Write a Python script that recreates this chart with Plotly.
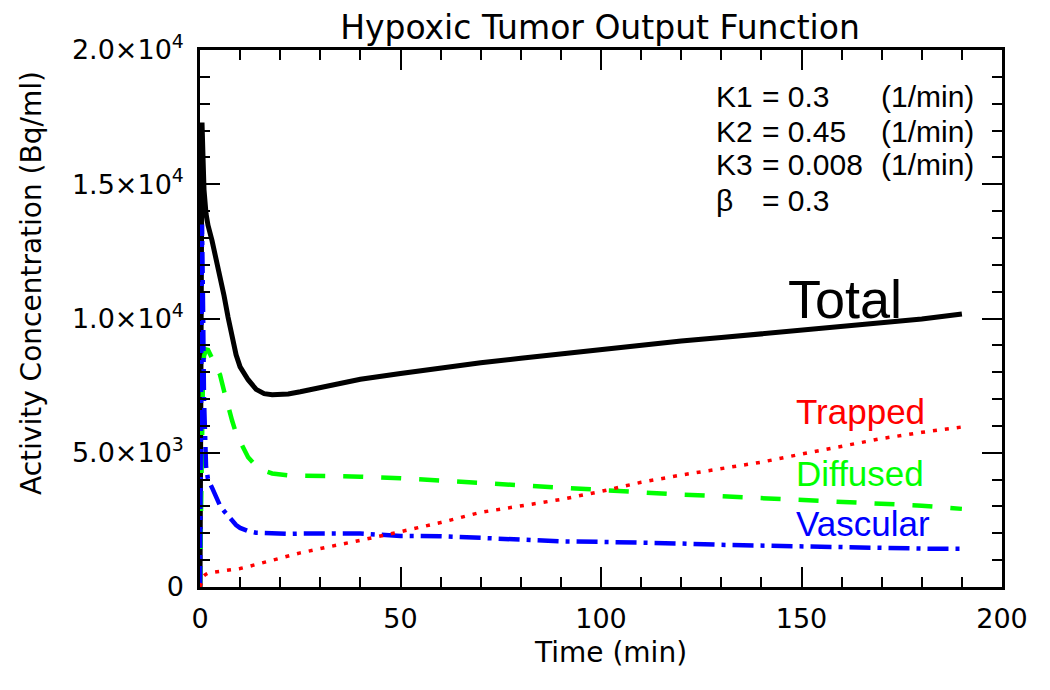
import plotly.graph_objects as go

# ---------------- data ----------------
TIME = [0, 0.25, 0.5, 0.75, 1, 1.5, 2, 3, 4, 5, 6, 7, 8, 9, 10, 12, 14, 16, 18, 20,
        22, 25, 30, 35, 40, 50, 60, 70, 80, 90, 100, 110, 120, 130, 140, 150, 160,
        170, 180, 190]

TOTAL = [0, 12000, 17300, 16000, 14800, 13900, 13470, 12900, 12250, 11600, 10850,
         10050, 9250, 8650, 8200, 7720, 7360, 7200, 7160, 7160, 7190, 7270, 7440,
         7600, 7740, 7950, 8160, 8350, 8520, 8690, 8860, 9020, 9160, 9290, 9420,
         9550, 9680, 9830, 9980, 10170]

DIFFUSED = [0, 4000, 6500, 8000, 8600, 8850, 8830, 8500, 8150, 7900, 7300, 6700,
            6200, 5720, 5400, 4830, 4500, 4330, 4230, 4180, 4160, 4150, 4140, 4140,
            4110, 4050, 3960, 3870, 3780, 3700, 3620, 3520, 3440, 3380, 3310, 3240,
            3160, 3100, 3030, 2910]

VASCULAR = [0, 9000, 13500, 10500, 7000, 4500, 4000, 3700, 3350, 3030, 2830, 2640,
            2450, 2310, 2200, 2080, 2020, 2000, 1990, 1980, 1980, 1990, 2000, 2010,
            1990, 1900, 1890, 1830, 1750, 1700, 1680, 1670, 1620, 1570, 1540, 1500,
            1460, 1450, 1430, 1420]

TRAPPED = [0, 100, 250, 350, 420, 480, 520, 540, 560, 580, 600, 620, 640, 665, 690,
           760, 840, 920, 1020, 1090, 1160, 1270, 1430, 1600, 1740, 2060, 2400, 2780,
           3020, 3260, 3560, 3900, 4170, 4400, 4650, 4950, 5250, 5530, 5760, 5960]

X_TICKS = [0, 50, 100, 150, 200]
X_TICK_LABELS = ["0", "50", "100", "150", "200"]
Y_TICKS = [0, 5000, 10000, 15000, 20000]
Y_TICK_LABELS = ["0", "5.0×10<sup>3</sup>", "1.0×10<sup>4</sup>",
                 "1.5×10<sup>4</sup>", "2.0×10<sup>4</sup>"]

PARAM_NAMES = ["K1", "K2", "K3", "β"]
PARAM_VALUES = ["= 0.3", "= 0.45", "= 0.008", "= 0.3"]
PARAM_UNITS = ["(1/min)", "(1/min)", "(1/min)", ""]

TITLE = "Hypoxic Tumor Output Function"
X_TITLE = "Time (min)"
Y_TITLE = "Activity Concentration (Bq/ml)"

# ---------------- styling ----------------
AXIS_FONT = "DejaVu Sans, sans-serif"
TEXT_FONT = "Liberation Sans, Arial, sans-serif"

fig = go.Figure()

fig.add_trace(go.Scatter(x=TIME, y=TOTAL, mode="lines", name="Total",
                         line=dict(color="black", width=5)))
fig.add_trace(go.Scatter(x=TIME, y=DIFFUSED, mode="lines", name="Diffused",
                         line=dict(color="#00ff00", width=4.5, dash="20px,18px")))
fig.add_trace(go.Scatter(x=TIME, y=VASCULAR, mode="lines", name="Vascular",
                         line=dict(color="#0000ff", width=4.5,
                                   dash="21px,7px,4px,7px")))
fig.add_trace(go.Scatter(x=TIME, y=TRAPPED, mode="lines", name="Trapped",
                         line=dict(color="#ff0000", width=3.5, dash="4px,8px")))

# The page body has an 8px margin, so the figure is drawn 8px in from the
# window's top-left corner; screen positions below are converted accordingly.
OFF = 8
W, H = 1050 - OFF, 690 - OFF
# plot area on screen: x 200..1002, y 50..587
L = 200 - OFF
T = 50 - OFF
R = W - (1002 - OFF)
B = H - (587 - OFF)
PW, PH = W - L - R, H - T - B


def px(xs):
    return (xs - OFF - L) / PW


def py(ys):
    return (H - B - (ys - OFF)) / PH


annotations = []
rows_y = [97, 131, 164, 200]
for name, val, unit, yy in zip(PARAM_NAMES, PARAM_VALUES, PARAM_UNITS, rows_y):
    annotations.append(dict(xref="paper", yref="paper", x=px(714), y=py(yy),
                            text=name, showarrow=False, xanchor="left",
                            yanchor="middle",
                            font=dict(family=TEXT_FONT, size=30, color="black")))
    annotations.append(dict(xref="paper", yref="paper", x=px(760), y=py(yy),
                            text=val, showarrow=False, xanchor="left",
                            yanchor="middle",
                            font=dict(family=TEXT_FONT, size=30, color="black")))
    if unit:
        annotations.append(dict(xref="paper", yref="paper", x=px(879), y=py(yy),
                                text=unit, showarrow=False, xanchor="left",
                                yanchor="middle",
                                font=dict(family=TEXT_FONT, size=30,
                                          color="black")))

# curve labels
curve_labels = [("Total", "black", 54, 786, 299),
                ("Trapped", "#ff0000", 35, 794, 411),
                ("Diffused", "#00ff00", 35, 794, 473),
                ("Vascular", "#0000ff", 35, 794, 523)]
for txt, col, size, xx, yy in curve_labels:
    annotations.append(dict(xref="paper", yref="paper", x=px(xx), y=py(yy),
                            text=txt, showarrow=False, xanchor="left",
                            yanchor="middle",
                            font=dict(family=TEXT_FONT, size=size, color=col)))

# axis titles
annotations.append(dict(xref="paper", yref="paper", x=px(610), y=py(652),
                        text=X_TITLE, showarrow=False, xanchor="center",
                        yanchor="middle",
                        font=dict(family=AXIS_FONT, size=28, color="black")))
annotations.append(dict(xref="paper", yref="paper", x=px(31), y=py(283),
                        text=Y_TITLE, showarrow=False, xanchor="center",
                        yanchor="middle", textangle=-90,
                        font=dict(family=AXIS_FONT, size=28, color="black")))

fig.update_layout(
    width=W, height=H,
    margin=dict(l=L, r=R, t=T, b=B, autoexpand=False),
    paper_bgcolor="white", plot_bgcolor="white",
    showlegend=False,
    title=dict(text=TITLE, x=(600 - OFF) / W, y=1.0 - (27 - OFF) / H,
               xanchor="center", yanchor="middle",
               xref="container", yref="container",
               pad=dict(t=0, b=0, l=0, r=0),
               font=dict(family=AXIS_FONT, size=33, color="black")),
    annotations=annotations,
)

fig.update_xaxes(range=[0, 200], tickvals=X_TICKS, ticktext=X_TICK_LABELS,
                 automargin=False,
                 showgrid=False, zeroline=False, showline=True, linecolor="black",
                 linewidth=2.5, mirror="ticks", ticks="inside", ticklen=20,
                 tickwidth=2, tickcolor="black",
                 tickfont=dict(family=AXIS_FONT, size=27, color="black"),
                 ticklabelstandoff=6,
                 minor=dict(ticks="inside", dtick=10, ticklen=10, tickwidth=2,
                            tickcolor="black", showgrid=False))
fig.update_yaxes(range=[0, 20000], tickvals=Y_TICKS, ticktext=Y_TICK_LABELS,
                 automargin=False,
                 showgrid=False, zeroline=False, showline=True, linecolor="black",
                 linewidth=2.5, mirror="ticks", ticks="inside", ticklen=20,
                 tickwidth=2, tickcolor="black",
                 tickfont=dict(family=AXIS_FONT, size=27, color="black"),
                 ticklabelstandoff=8,
                 minor=dict(ticks="inside", dtick=1000, ticklen=10, tickwidth=2,
                            tickcolor="black", showgrid=False))

fig.write_html("out.html")
